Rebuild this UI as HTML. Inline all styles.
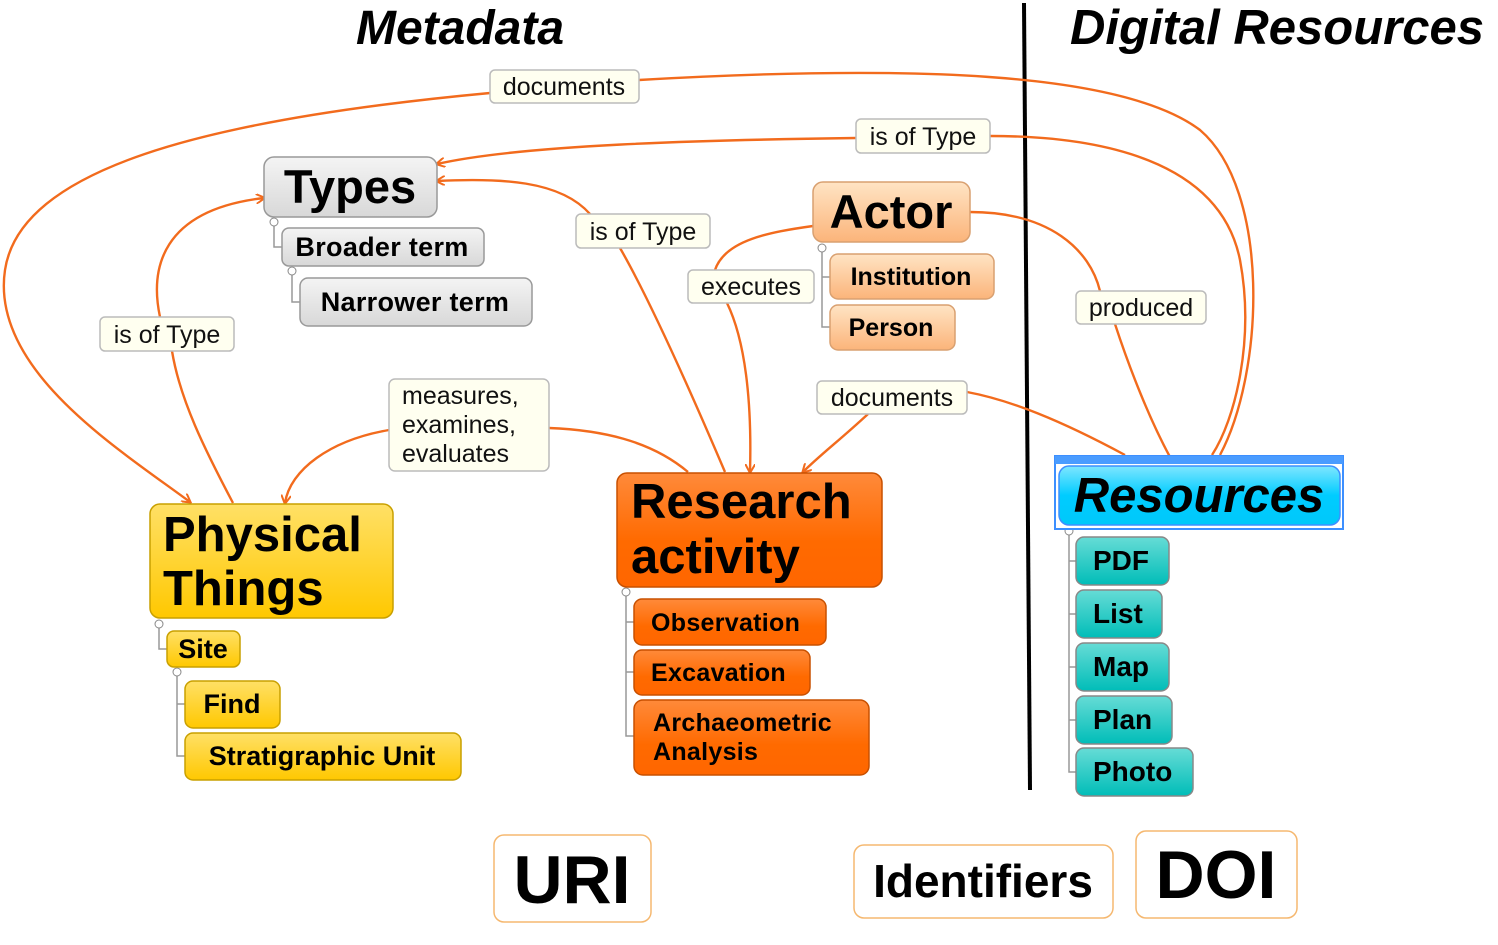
<!DOCTYPE html>
<html><head><meta charset="utf-8"><style>
html,body{margin:0;padding:0;background:#fff;}
svg{display:block;}
text{font-family:"Liberation Sans",sans-serif;}
.b{font-weight:bold;}
.lbl{font-size:25px;fill:#111;}
</style></head><body>
<svg width="1498" height="945" viewBox="0 0 1498 945" xmlns="http://www.w3.org/2000/svg">
<defs>
<linearGradient id="gGray" x1="0" y1="0" x2="0" y2="1"><stop offset="0" stop-color="#f4f4f4"/><stop offset="1" stop-color="#d8d8d8"/></linearGradient>
<linearGradient id="gPeach" x1="0" y1="0" x2="0" y2="1"><stop offset="0" stop-color="#ffe4c4"/><stop offset="1" stop-color="#fbb47a"/></linearGradient>
<linearGradient id="gYel" x1="0" y1="0" x2="0" y2="1"><stop offset="0" stop-color="#ffe066"/><stop offset="1" stop-color="#ffc800"/></linearGradient>
<linearGradient id="gOr" x1="0" y1="0" x2="0" y2="1"><stop offset="0" stop-color="#ff8a3a"/><stop offset="0.6" stop-color="#ff6a00"/><stop offset="1" stop-color="#ff6600"/></linearGradient>
<linearGradient id="gCy" x1="0" y1="0" x2="0" y2="1"><stop offset="0" stop-color="#7fe6ff"/><stop offset="0.5" stop-color="#00ccff"/><stop offset="1" stop-color="#00c8fa"/></linearGradient>
<linearGradient id="gTeal" x1="0" y1="0" x2="0" y2="1"><stop offset="0" stop-color="#66dcd6"/><stop offset="1" stop-color="#00bdb8"/></linearGradient>
<marker id="ar" markerWidth="10" markerHeight="10" refX="8" refY="5" orient="auto" markerUnits="userSpaceOnUse"><path d="M0,0 L9,5 L0,10" fill="none" stroke="#f26b1d" stroke-width="2"/></marker>
</defs>

<text x="460" y="44" font-size="48" class="b" font-style="italic" text-anchor="middle">Metadata</text>
<text x="1277" y="44" font-size="49" class="b" font-style="italic" text-anchor="middle">Digital Resources</text>
<line x1="1024" y1="3" x2="1030" y2="790" stroke="#000" stroke-width="4"/>

<g fill="none" stroke="#f26b1d" stroke-width="2.4">
<path d="M490,93 C200,120 20,170 5,270 C-10,370 120,450 190,502" marker-end="url(#ar)"/>
<path d="M639,80 C900,65 1120,70 1200,130 C1270,190 1265,370 1220,455"/>
<path d="M856,138 C700,140 520,145 437,164" marker-end="url(#ar)"/>
<path d="M990,136 C1100,136 1220,160 1240,260 C1255,340 1235,420 1212,455"/>
<path d="M725,472 C690,390 650,300 620,248"/>
<path d="M590,214 C560,180 500,178 437,181" marker-end="url(#ar)"/>
<path d="M813,226 C770,232 725,240 715,270"/>
<path d="M727,303 C745,340 752,400 750,472" marker-end="url(#ar)"/>
<path d="M233,503 C205,450 180,400 172,351"/>
<path d="M160,317 C150,270 160,210 264,198" marker-end="url(#ar)"/>
<path d="M970,212 C1050,212 1090,250 1100,291"/>
<path d="M1115,324 C1130,370 1150,420 1170,457"/>
<path d="M1125,455 C1060,420 1010,400 967,392"/>
<path d="M868,414 C840,440 820,455 803,472" marker-end="url(#ar)"/>
<path d="M688,472 C650,440 600,430 549,428"/>
<path d="M389,430 C330,440 290,470 285,503" marker-end="url(#ar)"/>
</g>

<g fill="none" stroke="#999" stroke-width="1.5">
<path d="M274,222 V247 H282"/>
<path d="M292,271 V302 H300"/>
<path d="M822,248 V277 H830 M822,277 V327 H830"/>
<path d="M159,624 V649 H167"/>
<path d="M177,672 V704 H185 M177,704 V756 H185"/>
<path d="M626,592 V622 H634 M626,622 V672 H634 M626,672 V736 H634"/>
<path d="M1069,531 V561 H1076 M1069,561 V614 H1076 M1069,614 V667 H1076 M1069,667 V720 H1076 M1069,720 V772 H1076"/>
</g>
<g fill="#fff" stroke="#888" stroke-width="1">
<circle cx="274" cy="222" r="4"/><circle cx="292" cy="271" r="4"/><circle cx="822" cy="248" r="4"/>
<circle cx="159" cy="624" r="4"/><circle cx="177" cy="672" r="4"/><circle cx="626" cy="592" r="4"/><circle cx="1069" cy="531" r="4"/>
</g>

<rect x="264" y="157" width="173" height="60" rx="10" fill="url(#gGray)" stroke="#999" stroke-width="1.5"/>
<text x="350" y="203" font-size="47" class="b" text-anchor="middle">Types</text>
<rect x="282" y="228" width="202" height="38" rx="7" fill="url(#gGray)" stroke="#999" stroke-width="1.5"/>
<text x="382" y="256" font-size="27" class="b" text-anchor="middle" letter-spacing="0.3">Broader term</text>
<rect x="300" y="278" width="232" height="48" rx="8" fill="url(#gGray)" stroke="#999" stroke-width="1.5"/>
<text x="415" y="311" font-size="27" class="b" text-anchor="middle" letter-spacing="0.3">Narrower term</text>

<rect x="813" y="182" width="157" height="60" rx="10" fill="url(#gPeach)" stroke="#d9a070" stroke-width="1.5"/>
<text x="891" y="228" font-size="47" class="b" text-anchor="middle">Actor</text>
<rect x="830" y="254" width="164" height="45" rx="8" fill="url(#gPeach)" stroke="#d9a070" stroke-width="1.5"/>
<text x="911" y="285" font-size="25" class="b" text-anchor="middle">Institution</text>
<rect x="830" y="305" width="125" height="45" rx="8" fill="url(#gPeach)" stroke="#d9a070" stroke-width="1.5"/>
<text x="891" y="336" font-size="25" class="b" text-anchor="middle">Person</text>

<rect x="150" y="504" width="243" height="114" rx="10" fill="url(#gYel)" stroke="#c9a000" stroke-width="1.5"/>
<text x="163" y="551" font-size="49" class="b">Physical</text>
<text x="163" y="605" font-size="49" class="b">Things</text>
<rect x="167" y="631" width="73" height="36" rx="7" fill="url(#gYel)" stroke="#c9a000" stroke-width="1.5"/>
<text x="203" y="658" font-size="27" class="b" text-anchor="middle">Site</text>
<rect x="185" y="681" width="95" height="47" rx="8" fill="url(#gYel)" stroke="#c9a000" stroke-width="1.5"/>
<text x="232" y="713" font-size="27" class="b" text-anchor="middle">Find</text>
<rect x="185" y="733" width="276" height="47" rx="8" fill="url(#gYel)" stroke="#c9a000" stroke-width="1.5"/>
<text x="322" y="765" font-size="27" class="b" text-anchor="middle">Stratigraphic Unit</text>

<rect x="617" y="473" width="265" height="114" rx="10" fill="url(#gOr)" stroke="#c85000" stroke-width="1.5"/>
<text x="631" y="518" font-size="49" class="b">Research</text>
<text x="631" y="573" font-size="49" class="b">activity</text>
<rect x="634" y="599" width="192" height="46" rx="8" fill="url(#gOr)" stroke="#c85000" stroke-width="1.5"/>
<text x="651" y="631" font-size="25" class="b" letter-spacing="0.3">Observation</text>
<rect x="634" y="650" width="176" height="45" rx="8" fill="url(#gOr)" stroke="#c85000" stroke-width="1.5"/>
<text x="651" y="681" font-size="25" class="b" letter-spacing="0.3">Excavation</text>
<rect x="634" y="700" width="235" height="75" rx="9" fill="url(#gOr)" stroke="#c85000" stroke-width="1.5"/>
<text x="653" y="731" font-size="25" class="b" letter-spacing="0.3">Archaeometric</text>
<text x="653" y="760" font-size="25" class="b" letter-spacing="0.3">Analysis</text>

<rect x="1055" y="456" width="288" height="73" fill="#fff" stroke="#3d8fff" stroke-width="2"/>
<rect x="1055" y="456" width="288" height="8" fill="#4a9cff"/>
<rect x="1059" y="466" width="281" height="59" rx="10" fill="url(#gCy)" stroke="#3d8fff" stroke-width="1.5"/>
<text x="1199" y="512" font-size="49" class="b" font-style="italic" text-anchor="middle">Resources</text>
<g stroke="#888" stroke-width="1.5" fill="url(#gTeal)">
<rect x="1076" y="537" width="93" height="48" rx="8"/>
<rect x="1076" y="590" width="86" height="48" rx="8"/>
<rect x="1076" y="643" width="93" height="48" rx="8"/>
<rect x="1076" y="696" width="96" height="48" rx="8"/>
<rect x="1076" y="748" width="117" height="48" rx="8"/>
</g>
<g font-size="28">
<text x="1093" y="570" class="b">PDF</text>
<text x="1093" y="623" class="b">List</text>
<text x="1093" y="676" class="b">Map</text>
<text x="1093" y="729" class="b">Plan</text>
<text x="1093" y="781" class="b">Photo</text>
</g>

<g fill="#fffff0" stroke="#bbb" stroke-width="1.5">
<rect x="490" y="70" width="149" height="33" rx="5"/>
<rect x="856" y="119" width="134" height="34" rx="5"/>
<rect x="576" y="214" width="134" height="34" rx="5"/>
<rect x="688" y="270" width="126" height="33" rx="5"/>
<rect x="100" y="317" width="134" height="34" rx="5"/>
<rect x="1076" y="291" width="130" height="33" rx="5"/>
<rect x="817" y="381" width="150" height="33" rx="5"/>
<rect x="389" y="379" width="160" height="92" rx="6"/>
</g>
<text x="564" y="95" class="lbl" text-anchor="middle">documents</text>
<text x="923" y="145" class="lbl" text-anchor="middle">is of Type</text>
<text x="643" y="240" class="lbl" text-anchor="middle">is of Type</text>
<text x="751" y="295" class="lbl" text-anchor="middle">executes</text>
<text x="167" y="343" class="lbl" text-anchor="middle">is of Type</text>
<text x="1141" y="316" class="lbl" text-anchor="middle">produced</text>
<text x="892" y="406" class="lbl" text-anchor="middle">documents</text>
<text x="402" y="404" class="lbl">measures,</text>
<text x="402" y="433" class="lbl">examines,</text>
<text x="402" y="462" class="lbl">evaluates</text>

<g fill="#fff" stroke="#f5b870" stroke-width="1.5">
<rect x="494" y="835" width="157" height="87" rx="10"/>
<rect x="854" y="845" width="259" height="73" rx="10"/>
<rect x="1136" y="831" width="161" height="87" rx="10"/>
</g>
<text x="572" y="903" font-size="68" class="b" text-anchor="middle">URI</text>
<text x="983" y="897" font-size="46" class="b" text-anchor="middle">Identifiers</text>
<text x="1216" y="898" font-size="68" class="b" text-anchor="middle">DOI</text>
</svg>
</body></html>
